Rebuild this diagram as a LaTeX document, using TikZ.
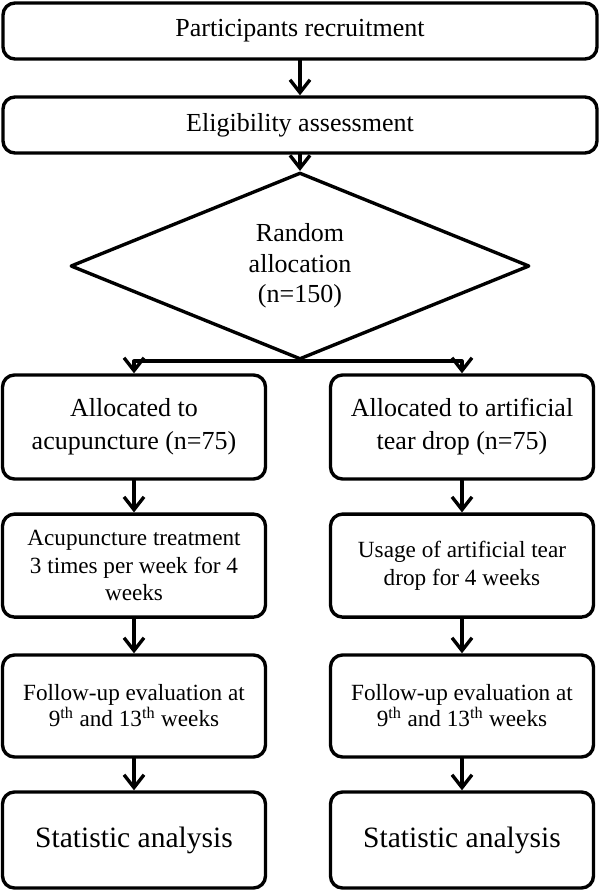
\documentclass[tikz,border=0pt]{standalone}
\usepackage{fontspec}
\setmainfont{Liberation Serif}
\usetikzlibrary{shapes.geometric,arrows.meta}
\begin{document}
\begin{tikzpicture}[>={Straight Barb[length=3.2mm,width=5mm]}, line join=round, line cap=round,
	hop/.style={draw, line width=2.4pt, rounded corners=0.3cm, align=center, inner sep=2pt},
	thoi/.style={draw, line width=2.4pt, diamond, align=center, inner sep=0pt},
	noi/.style={->, line width=2.4pt}]
	\def\lx{3.35} \def\rx{11.55} % cot trai, cot phai
	\def\w{6.575}
	\useasboundingbox (0,0) rectangle (15,-22.3);
	\node[hop, minimum width=14.85cm, minimum height=1.4cm, font=\fontsize{18.5}{23}\selectfont] (recruit) at (7.5,-0.775) {Participants recruitment};
	\node[hop, minimum width=14.85cm, minimum height=1.4cm, font=\fontsize{18.5}{23}\selectfont] (elig) at (7.5,-3.125) {Eligibility assessment};
	\node[thoi, minimum width=11.475cm, minimum height=3.8cm, font=\fontsize{18.5}{21.6}\selectfont] (rand) at (7.5,-6.65) {Random\\allocation\\(n=150)};
	% nhanh trai
	\node[hop, minimum width=\w cm, minimum height=2.6cm, font=\fontsize{18.5}{23.4}\selectfont] (acuA) at (\lx,-10.675) {Allocated to\\acupuncture (n=75)};
	\node[hop, minimum width=\w cm, minimum height=2.575cm, font=\fontsize{16.5}{19.5}\selectfont] (acuB) at (\lx,-14.14) {Acupuncture treatment\\3 times per week for 4\\weeks};
	\node[hop, minimum width=\w cm, minimum height=2.55cm, font=\fontsize{16.5}{18.5}\selectfont] (acuC) at (\lx,-17.65) {Follow-up evaluation at\\9\textsuperscript{th} and 13\textsuperscript{th} weeks};
	\node[hop, minimum width=\w cm, minimum height=2.4cm, font=\fontsize{21}{25}\selectfont] (acuD) at (\lx,-21.0) {Statistic analysis};
	% nhanh phai
	\node[hop, minimum width=\w cm, minimum height=2.6cm, font=\fontsize{18.5}{23.4}\selectfont] (tearA) at (\rx,-10.675) {Allocated to artificial\\tear drop (n=75)};
	\node[hop, minimum width=\w cm, minimum height=2.575cm, font=\fontsize{16.5}{19.5}\selectfont] (tearB) at (\rx,-14.14) {Usage of artificial tear\\drop for 4 weeks};
	\node[hop, minimum width=\w cm, minimum height=2.55cm, font=\fontsize{16.5}{18.5}\selectfont] (tearC) at (\rx,-17.65) {Follow-up evaluation at\\9\textsuperscript{th} and 13\textsuperscript{th} weeks};
	\node[hop, minimum width=\w cm, minimum height=2.4cm, font=\fontsize{21}{25}\selectfont] (tearD) at (\rx,-21.0) {Statistic analysis};
	\draw[noi] (recruit)--(elig);
	\draw[noi] (elig)--(rand);
	\draw[noi] (rand.south)-|(acuA.north);
	\draw[noi] (rand.south)-|(tearA.north);
	\draw[noi] (acuA)--(acuB);
	\draw[noi] (acuB)--(acuC);
	\draw[noi] (acuC)--(acuD);
	\draw[noi] (tearA)--(tearB);
	\draw[noi] (tearB)--(tearC);
	\draw[noi] (tearC)--(tearD);
\end{tikzpicture}
\end{document}
